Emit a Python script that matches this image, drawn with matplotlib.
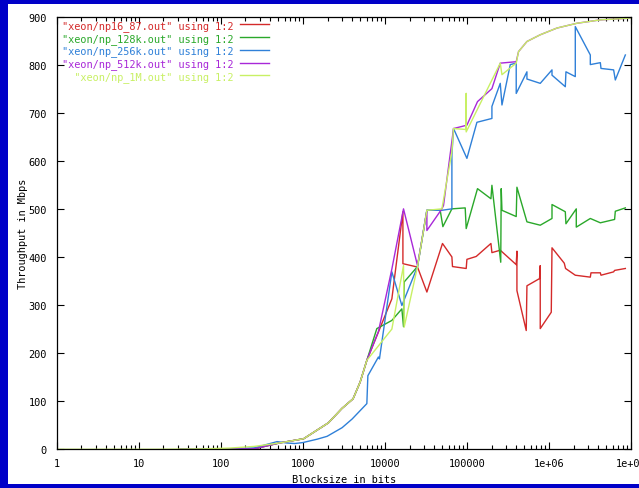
import matplotlib
matplotlib.use("Agg")
import matplotlib.pyplot as plt
from matplotlib.patches import Rectangle
from matplotlib.ticker import FixedLocator, FixedFormatter, LogLocator, NullFormatter

# ---------------- data ----------------
labels = ['"xeon/np16_87.out" using 1:2',
          '"xeon/np_128k.out" using 1:2',
          '"xeon/np_256k.out" using 1:2',
          '"xeon/np_512k.out" using 1:2',
          '  "xeon/np_1M.out" using 1:2']
colors = ['#d42a2a', '#2aa82a', '#2f80d8', '#a828d8', '#c8f064']

red_x = [32, 64, 128, 256, 512, 1024, 2048, 3000, 4096, 5000, 6030, 8350, 12170, 16590, 16590,
         24990, 32520, 50380, 65600, 66710, 98000, 100000, 129800, 196200, 201700, 254900,
         399000, 407000, 407000, 528500, 539000, 767900, 783000, 783000, 1067000, 1089000,
         1537000, 1594000, 2094000, 3192000, 3252000, 4229000, 4307000, 6141000, 6310000, 8531000]
red_y = [0, 0, 0.5, 1, 13, 22, 55, 85, 105, 140, 185, 244, 313, 494, 386,
         379, 327, 428, 400, 380, 376, 395, 401, 428, 409, 414,
         384, 412, 330, 247, 340, 355, 382, 251, 285, 419,
         387, 376, 362, 358, 367, 367, 362, 369, 372, 376]

green_x = [32, 64, 128, 256, 512, 1024, 2048, 3000, 4096, 5000, 6030, 7980, 12170, 16110, 16870,
           17190, 24990, 32520, 47250, 50930, 65600, 95300, 98000, 134600, 196200, 201700,
           258400, 261900, 267400, 399000, 407000, 539000, 783000, 1089000, 1089000, 1582000,
           1611000, 2153000, 2153000, 3192000, 4229000, 6310000, 6438000, 8531000]
green_y = [0, 0, 0.5, 1, 13, 22, 55, 85, 105, 140, 185, 251, 268, 292, 255,
           348, 380, 497, 497, 463, 500, 502, 459, 542, 521, 549,
           389, 542, 497, 484, 545, 473, 466, 480, 509, 494,
           469, 500, 462, 480, 471, 478, 495, 502]

blue_x = [32, 64, 128, 256, 486, 644, 800, 1000, 1494, 1977, 3013, 3990, 6030, 6205, 8350, 8590,
          12170, 16110, 24990, 32520, 49560, 65600, 65600, 68700, 100000, 132400, 201700, 201700,
          254900, 267400, 337500, 399000, 399000, 539000, 539000, 783000, 1089000, 1089000,
          1582000, 1611000, 2094000, 2094000, 3192000, 3192000, 4229000, 4307000, 6141000,
          6438000, 8531000]
blue_y = [0, 0.5, 1, 3, 16, 13, 12, 14, 21, 27, 45, 63, 95, 153, 192, 188,
          369, 299, 380, 497, 497, 500, 612, 667, 605, 680, 688, 713,
          761, 716, 800, 803, 740, 785, 770, 761, 789, 778,
          754, 785, 775, 879, 820, 800, 804, 792, 789,
          768, 820]

purple_x = [32, 64, 128, 256, 512, 1024, 2048, 3000, 4096, 5000, 6030, 8350, 12170, 16870,
            24990, 32520, 32520, 49560, 51850, 68700, 100000, 134600, 201700, 254900, 399000,
            425900, 539000, 783000, 1253000, 2200000, 4229000, 8531000, 10000000]
purple_y = [0, 0, 0.5, 1, 13, 22, 55, 85, 105, 140, 185, 245, 375, 500,
            382, 497, 455, 500, 507, 667, 674, 723, 750, 803, 806,
            827, 848, 862, 876, 886, 893, 896, 897]

yellow_x = [1, 2, 4, 8, 16, 32, 64, 128, 256, 512, 1024, 2048, 3000, 4096, 5000, 6030, 12170,
            16870, 17190, 24990, 32520, 49560, 65600, 68700, 98000, 98000, 98000, 254900,
            267400, 399000, 425900, 539000, 783000, 1253000, 2200000, 4229000, 8531000, 10000000]
yellow_y = [0, 0, 0, 0, 0, 0.5, 1, 2.5, 6, 13, 22, 55, 85, 105, 140, 185, 250,
            382, 254, 380, 497, 500, 619, 667, 665, 740, 660, 803,
            779, 803, 827, 848, 862, 876, 886, 893, 896, 897]

series_x = [red_x, green_x, blue_x, purple_x, yellow_x]
series_y = [red_y, green_y, blue_y, purple_y, yellow_y]

xticks = [1, 10, 100, 1000, 10000, 100000, 1000000, 10000000]
xticklabels = ['1', '10', '100', '1000', '10000', '100000', '1e+06', '1e+07']
yticks = [0, 100, 200, 300, 400, 500, 600, 700, 800, 900]

# ---------------- figure ----------------
W, H = 639, 489
fig = plt.figure(figsize=(W / 100, H / 100), dpi=100, facecolor='#0000c8')
fig.patches.append(Rectangle((8 / W, 4 / H), 1 - 8 / W, 480 / H,
                             transform=fig.transFigure, facecolor='white',
                             edgecolor='none', zorder=-10))

left, right, top, bottom = 56.7, 631.0, 17.5, 450.3
ax = fig.add_axes([left / W, (H - bottom) / H, (right - left) / W, (bottom - top) / H])
ax.set_facecolor('white')

for xs, ys, c, lab in zip(series_x, series_y, colors, labels):
    ax.plot(xs, ys, color=c, lw=1.0, label=lab)

ax.set_xscale('log')
ax.set_xlim(1, 1e7)
ax.set_ylim(0, 900)

font = 'DejaVu Sans Mono'
fs = 7.4

ax.xaxis.set_major_locator(FixedLocator(xticks))
ax.xaxis.set_major_formatter(FixedFormatter(xticklabels))
ax.xaxis.set_minor_locator(LogLocator(base=10, subs=range(2, 10), numticks=20))
ax.xaxis.set_minor_formatter(NullFormatter())
ax.set_yticks(yticks)

ax.tick_params(which='both', direction='in', top=True, right=True, width=0.8,
               labelsize=fs, colors='black')
ax.tick_params(which='major', length=5)
ax.tick_params(which='minor', length=3)
ax.tick_params(axis='y', pad=7)
ax.tick_params(axis='x', pad=6)
for t in ax.get_xticklabels() + ax.get_yticklabels():
    t.set_fontfamily(font)
    t.set_clip_on(False)

for s in ax.spines.values():
    s.set_linewidth(0.9)
    s.set_color('black')

ax.set_xlabel('Blocksize in bits', fontsize=fs, fontfamily=font)
ax.set_ylabel('Throughput in Mbps', fontsize=fs, fontfamily=font)
ax.xaxis.set_label_coords(0.5, -0.058)
ax.yaxis.set_label_coords(-0.05, 0.5)

leg = ax.legend(loc='upper left', bbox_to_anchor=(0.009, 0.992), frameon=False,
                markerfirst=False, labelcolor='linecolor', handlelength=2.9,
                handletextpad=0.6, labelspacing=0.18, borderpad=0, borderaxespad=0,
                prop={'family': font, 'size': fs})

fig.savefig('out.png', dpi=100, facecolor=fig.get_facecolor())
